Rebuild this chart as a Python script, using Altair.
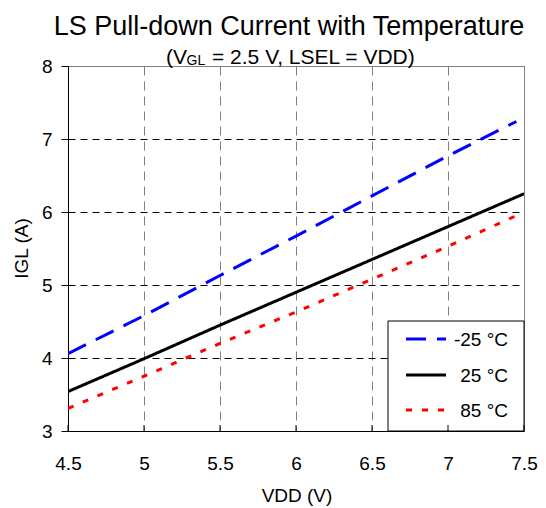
import altair as alt
import pandas as pd

FONT = "Liberation Sans"

series = ["-25 °C", "25 °C", "85 °C"]
colors = ["#0000FF", "#000000", "#FF0000"]
dashes = [[20, 11], [1, 0], [6, 10]]

vdd_m25 = [4.5, 5.0, 5.5, 6.0, 6.5, 7.0, 7.45]
igl_m25 = [4.06, 4.58, 5.13, 5.67, 6.22, 6.77, 7.24]

vdd_25 = [4.5, 5.0, 5.5, 6.0, 6.5, 7.0, 7.5]
igl_25 = [3.54, 3.99, 4.45, 4.90, 5.35, 5.80, 6.25]

vdd_85 = [4.5, 5.0, 5.5, 6.0, 6.5, 7.0, 7.45]
igl_85 = [3.31, 3.75, 4.20, 4.63, 5.08, 5.53, 5.95]

x_ticks = [4.5, 5.0, 5.5, 6.0, 6.5, 7.0, 7.5]
y_ticks = [3, 4, 5, 6, 7, 8]

title_text = "LS Pull-down Current with Temperature"
sub_a = "(V"
sub_b = "GL"
sub_c = "= 2.5 V, LSEL = VDD)"
x_title = "VDD (V)"
y_title = "IGL (A)"

rows = []
for name, xs, ys in [(series[0], vdd_m25, igl_m25), (series[1], vdd_25, igl_25), (series[2], vdd_85, igl_85)]:
    for xv, yv in zip(xs, ys):
        rows.append({"series": name, "vdd": xv, "igl": yv})
df = pd.DataFrame(rows)

W, H = 456, 365
L, T = 60, 58  # plot origin in chart coords (page = +8)

xscale = alt.Scale(domain=[4.5, 7.5], nice=False, zero=False)
yscale = alt.Scale(domain=[3, 8], nice=False, zero=False)

lines = alt.Chart(df).mark_line(strokeWidth=3, clip=True).encode(
    x=alt.X("vdd:Q", scale=xscale, title=None,
            axis=alt.Axis(values=x_ticks, format="~g", tickSize=0, labelPadding=23, labelFlush=False,
                          gridColor="#808080", gridDash=[9, 6])),
    y=alt.Y("igl:Q", scale=yscale, title=None,
            axis=alt.Axis(values=y_ticks, format="d", tickSize=7, labelPadding=9, labelFlush=False,
                          gridColor="#000000", gridDash=[7, 5],
                          gridOpacity={"condition": {"test": "datum.value === 8", "value": 0}, "value": 1})),
    color=alt.Color("series:N", scale=alt.Scale(domain=series, range=colors), legend=None),
    strokeDash=alt.StrokeDash("series:N", scale=alt.Scale(domain=series, range=dashes), legend=None),
)

one = pd.DataFrame({"a": [0]})

box_left = 388 - 8 - L
box_top = 321 - 8 - T
legend_box = alt.Chart(one).mark_rect(fill="white", stroke="black", strokeWidth=1).encode(
    x=alt.value(box_left), x2=alt.value(W), y=alt.value(box_top), y2=alt.value(H)
)

layers = [lines, legend_box]
row_y = [339 - 8 - T, 375 - 8 - T, 410 - 8 - T]
for i, name in enumerate(series):
    layers.append(
        alt.Chart(one).mark_rule(strokeWidth=3, color=colors[i], strokeDash=dashes[i]).encode(
            x=alt.value(406 - 8 - L), x2=alt.value(446 - 8 - L), y=alt.value(row_y[i])
        )
    )
    layers.append(
        alt.Chart(one).mark_text(text=name, font=FONT, fontSize=19, align="right",
                                 baseline="middle", color="black").encode(
            x=alt.value(508 - 8 - L), y=alt.value(row_y[i] + 1)
        )
    )

ticks = alt.Chart(pd.DataFrame({"t": x_ticks})).mark_rule(color="black", strokeWidth=1).encode(
    x=alt.X("t:Q", scale=xscale), y=alt.value(H), y2=alt.value(H - 6)
)
layers.append(ticks)

def txt(s, size, px, py, align="left", angle=0):
    return alt.Chart(one).mark_text(text=s, font=FONT, fontSize=size, align=align, angle=angle,
                                    baseline="alphabetic", color="black").encode(
        x=alt.value(px - 8 - L), y=alt.value(py - 8 - T))

layers.append(txt(title_text, 27, 289, 35, align="center"))
layers.append(txt(sub_a, 21, 166, 64))
layers.append(txt(sub_b, 14, 186.5, 65))
layers.append(txt(sub_c, 21, 212, 64))
layers.append(txt(x_title, 19, 297, 502, align="center"))
layers.append(txt(y_title, 19, 28, 8 + T + H / 2, align="center", angle=270))

chart = alt.layer(*layers).properties(
    width=W, height=H,
    autosize=alt.AutoSizeParams(type="none"),
    padding={"left": L, "top": T, "right": 530 - L - W, "bottom": 500 - T - H},
    background="white",
).configure_view(stroke="#808080", strokeWidth=1).configure_axis(
    domainColor="black", domainWidth=1, tickColor="black", tickWidth=1,
    labelFont=FONT, labelFontSize=19, labelColor="black", gridWidth=1,
)

chart.save("out.html", embed_options={"renderer": "svg", "actions": False})
